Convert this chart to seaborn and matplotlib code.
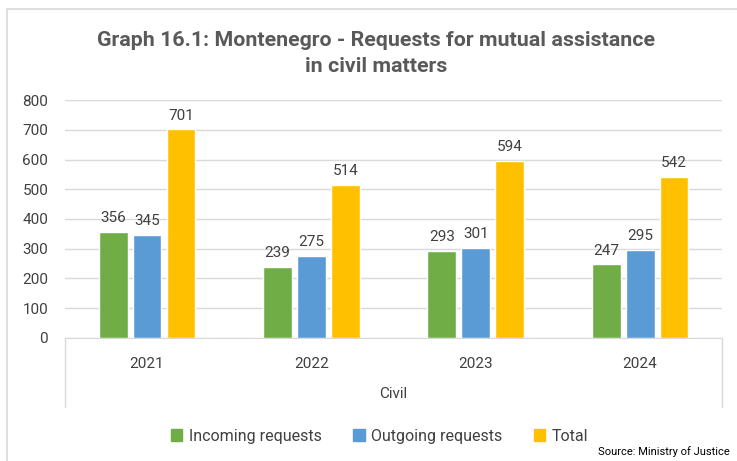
import pandas as pd
import matplotlib.pyplot as plt
import seaborn as sns
from matplotlib.patches import Rectangle

# Data
years = ['2021', '2022', '2023', '2024']
incoming = [356, 239, 293, 247]
outgoing = [345, 275, 301, 295]
total = [701, 514, 594, 542]
series = ['Incoming requests', 'Outgoing requests', 'Total']
colors = ['#70AD47', '#5B9BD5', '#FFC000']

df = pd.DataFrame({
    'Year': years * 3,
    'Series': [s for s in series for _ in years],
    'Value': incoming + outgoing + total,
})

sns.set_style('white')
plt.rcParams['font.family'] = ['Roboto', 'DejaVu Sans']

fig = plt.figure(figsize=(7.37, 4.61), dpi=100)
ax = fig.add_axes([0.088, 0.267, 0.892, 0.516])

sns.barplot(data=df, x='Year', y='Value', hue='Series', palette=colors,
            saturation=1, width=0.62, gap=0.15, ax=ax, legend=False)

# value labels
for cont in ax.containers:
    ax.bar_label(cont, padding=5, fontsize=11, color='#404040')

ax.set_ylim(0, 800)
ax.set_yticks(range(0, 801, 100))
ax.set_xlim(-0.5, 3.5)
ax.yaxis.grid(True, color='#D9D9D9', linewidth=1)
ax.set_axisbelow(True)
for s in ['top', 'right', 'left']:
    ax.spines[s].set_visible(False)
ax.spines['bottom'].set_color('#D9D9D9')
ax.tick_params(axis='y', labelsize=11, labelcolor='#404040', length=0, pad=12)
ax.tick_params(axis='x', labelsize=11, labelcolor='#404040', length=0, pad=14)
ax.set_xlabel('')
ax.set_ylabel('')

# category group box
for xa in [0, 1]:
    ax.plot([xa, xa], [0, -0.29], transform=ax.transAxes, color='#D9D9D9',
            linewidth=1, clip_on=False)
ax.text(0.5, -0.235, 'Civil', transform=ax.transAxes, ha='center', va='center',
        fontsize=11, color='#404040')

# title
fig.text(0.51, 0.912, 'Graph 16.1: Montenegro - Requests for mutual assistance',
         ha='center', va='center', fontsize=15.4, fontweight='semibold', color='#595959')
fig.text(0.51, 0.855, 'in civil matters', ha='center', va='center',
         fontsize=15.4, fontweight='semibold', color='#595959')

# legend
handles = [Rectangle((0, 0), 1, 1, color=c) for c in colors]
fig.legend(handles, series, loc='center', bbox_to_anchor=(0.515, 0.054), ncol=3,
           frameon=False, fontsize=11.5, labelcolor='#404040', handlelength=0.7,
           handleheight=0.7, handletextpad=0.4, columnspacing=2.0)

fig.text(0.99, 0.02, 'Source: Ministry of Justice', ha='right', va='center',
         fontsize=8, color='black')

# chart border
fig.patches.append(Rectangle((7 / 737, -0.1), 1.1, 1 - 9 / 461 + 0.1,
                             transform=fig.transFigure, fill=False,
                             edgecolor='#D9D9D9', linewidth=1.2))

plt.savefig('out.png', dpi=100)
